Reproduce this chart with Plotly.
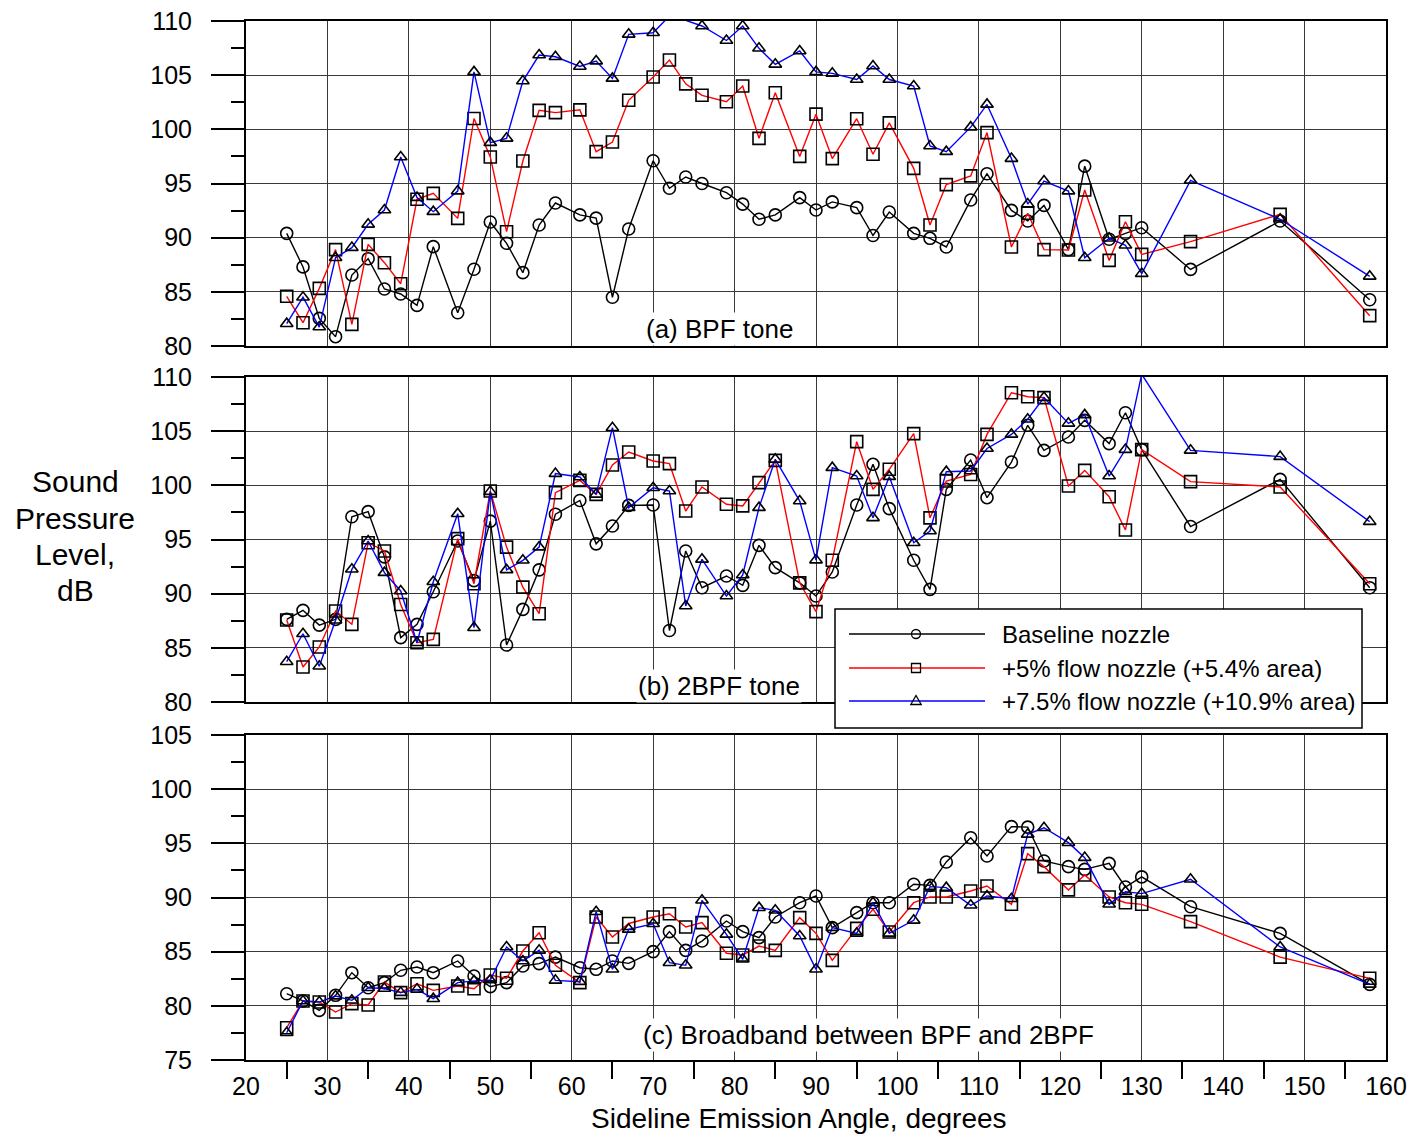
import plotly.graph_objects as go

# ---------------- data ----------------
angle = [25, 27, 29, 31, 33, 35, 37, 39, 41, 43, 46, 48, 50, 52, 54, 56, 58, 61, 63, 65,
         67, 70, 72, 74, 76, 79, 81, 83, 85, 88, 90, 92, 95, 97, 99, 102, 104, 106, 109, 111,
         114, 116, 118, 121, 123, 126, 128, 130, 136, 147, 158]

series_names = ["Baseline nozzle", "+5% flow nozzle (+5.4% area)", "+7.5% flow nozzle (+10.9% area)"]

# (a) BPF tone
bpf_base = [90.4, 87.3, 82.55, 80.86, 86.55, 88.06, 85.26, 84.8, 83.75, 89.17,
            83.07, 87.08, 91.45, 89.48, 86.77, 91.17, 93.2, 92.1, 91.8, 84.5,
            90.8, 97.1, 94.56, 95.6, 95.0, 94.15, 93.1, 91.7, 92.1, 93.7,
            92.55, 93.3, 92.77, 90.2, 92.37, 90.4, 89.94, 89.14, 93.48, 95.9,
            92.52, 91.54, 92.98, 88.9, 96.6, 89.85, 90.4, 90.92, 87.07, 91.54, 84.27]
bpf_p5 = [84.59, 82.15, 85.32, 88.9, 82.0, 89.38, 87.69, 85.75, 93.54, 94.09,
          91.78, 101.0, 97.45, 90.55, 97.08, 101.75, 101.54, 101.8, 97.94, 98.83,
          102.68, 104.83, 106.4, 104.2, 103.14, 102.55, 104.0, 99.17, 103.37, 97.5,
          101.4, 97.3, 100.98, 97.7, 100.6, 96.4, 91.17, 94.9, 95.7, 99.7,
          89.14, 92.25, 88.9, 88.86, 94.4, 87.9, 91.47, 88.46, 89.63, 92.15, 82.8]
bpf_p75 = [82.06, 84.5, 81.75, 88.15, 89.08, 91.23, 92.55, 97.45, 93.7, 92.4,
           94.3, 105.3, 98.77, 99.17, 104.46, 106.86, 106.7, 105.8, 106.3, 104.7,
           108.77, 108.92, 110.46, 110.06, 109.54, 108.2, 109.54, 107.48, 106.0, 107.23,
           105.3, 105.17, 104.6, 105.85, 104.6, 104.0, 98.46, 97.94, 100.2, 102.3,
           97.3, 93.1, 95.23, 94.3, 88.15, 89.94, 89.3, 86.68, 95.29, 91.7, 86.43]

# (b) 2BPF tone
bpf2_base = [87.63, 88.46, 87.1, 87.63, 97.1, 97.57, 93.4, 85.94, 87.17, 90.18,
             94.86, 91.2, 96.7, 85.26, 88.55, 92.2, 97.33, 98.6, 94.6, 96.25,
             98.15, 98.18, 86.6, 93.94, 90.55, 91.63, 90.77, 94.46, 92.4, 91.0,
             89.78, 92.0, 98.18, 101.94, 97.85, 93.08, 90.4, 99.63, 102.34, 98.86,
             102.15, 105.54, 103.23, 104.46, 106.0, 103.85, 106.7, 103.3, 96.2, 100.55, 90.55]
bpf2_p5 = [87.57, 83.23, 85.08, 88.4, 87.17, 94.7, 93.94, 89.0, 85.47, 85.78,
           95.08, 90.92, 99.48, 94.3, 90.6, 88.15, 99.32, 100.46, 99.17, 101.88,
           103.08, 102.25, 102.0, 97.63, 99.85, 98.25, 98.1, 100.25, 102.3, 91.0,
           88.34, 93.08, 104.03, 99.63, 101.48, 104.77, 97.0, 100.4, 101.0, 104.7,
           108.55, 108.18, 108.1, 99.94, 101.38, 98.95, 95.88, 103.3, 100.34, 99.85, 90.92]
bpf2_p75 = [83.72, 86.3, 83.3, 87.54, 92.25, 94.86, 91.94, 90.25, 85.47, 91.1,
            97.38, 86.86, 99.42, 92.2, 93.08, 94.3, 101.08, 100.77, 99.17, 105.32,
            97.94, 99.78, 99.48, 88.86, 93.17, 89.78, 91.72, 97.94, 102.4, 98.55,
            93.1, 101.63, 100.86, 97.0, 100.8, 94.7, 95.78, 101.26, 101.32, 103.4,
            104.7, 106.1, 108.1, 105.72, 106.5, 100.86, 103.3, 110.25, 103.23, 102.65, 96.65]

# (c) Broadband between BPF and 2BPF
bb_base = [81.12, 80.45, 79.58, 80.97, 83.06, 81.67, 82.14, 83.28, 83.58, 83.06,
           84.14, 82.75, 81.77, 82.14, 83.68, 83.9, 84.5, 83.52, 83.37, 84.14,
           83.92, 85.0, 86.85, 85.12, 85.98, 87.83, 86.85, 86.3, 88.2, 89.52,
           90.14, 87.22, 88.6, 89.52, 89.52, 91.22, 91.12, 93.28, 95.52, 93.83,
           96.54, 96.5, 93.37, 92.85, 92.6, 93.15, 90.97, 91.9, 89.15, 86.69, 81.98]
bb_p5 = [77.98, 80.45, 80.35, 79.43, 80.2, 80.08, 82.2, 81.22, 82.04, 81.43,
         81.83, 81.58, 82.85, 82.54, 85.06, 86.75, 83.74, 82.14, 88.2, 86.35,
         87.6, 88.2, 88.5, 87.28, 87.68, 84.85, 84.69, 85.52, 85.12, 88.14,
         86.69, 84.2, 87.15, 88.91, 86.82, 89.52, 90.05, 90.05, 90.6, 91.06,
         89.37, 94.05, 92.85, 90.7, 92.08, 90.05, 89.52, 89.37, 87.77, 84.5, 82.54]
bb_p75 = [77.52, 80.45, 80.35, 80.9, 80.51, 81.67, 81.6, 81.22, 81.52, 80.66,
          82.14, 82.3, 82.38, 85.43, 84.14, 85.12, 82.35, 82.23, 88.69, 83.37,
          87.06, 87.58, 83.98, 83.74, 89.74, 86.6, 84.3, 89.06, 88.82, 86.45,
          83.37, 87.22, 86.69, 89.52, 86.69, 87.89, 91.0, 90.91, 89.28, 90.14,
          89.89, 95.83, 96.44, 95.06, 93.68, 89.37, 90.54, 90.36, 91.68, 85.43, 81.98]

x_ticks = [20, 30, 40, 50, 60, 70, 80, 90, 100, 110, 120, 130, 140, 150, 160]
x_minor_ticks = [25, 35, 45, 55, 65, 75, 85, 95, 105, 115, 125, 135, 145, 155]
panel_labels = ["(a) BPF tone", "(b) 2BPF tone", "(c) Broadband between BPF and 2BPF"]
y_title_lines = ["Sound", "Pressure", "Level,", "dB"]
x_title = "Sideline Emission Angle, degrees"

# ---------------- layout geometry ----------------
# Positions below are given in screen pixels of the 1426x1142 window;
# the page body has a small default margin, so the figure is offset by OFF.
OFF = 7
PX0, PX1, PY0, PY1 = 245, 1385, 20, 1059      # plot area in screen pixels
W, H = 1426 - 2 * OFF - 2, 1142 - 2 * OFF - 2
L, T = PX0 - OFF, PY0 - OFF
PW, PH = PX1 - PX0, PY1 - PY0
R, B = W - L - PW, H - T - PH


def xf(px):
    return (px - PX0) / PW


def yf(py):
    return (PY1 - py) / PH


FONT = "Liberation Sans, Arial, sans-serif"
colors = ["#000000", "#ff0000", "#0000ff"]
symbols = ["circle-open", "square-open", "triangle-up-open"]
msizes = [12, 12, 11]
GRID = "#3a3a3a"

panels = [
    dict(ax="3", top=20, bot=345, yr=[80, 110], data=[bpf_base, bpf_p5, bpf_p75],
         label=panel_labels[0], lx=78.1, ly=81.6),
    dict(ax="2", top=376, bot=701, yr=[80, 110], data=[bpf2_base, bpf2_p5, bpf2_p75],
         label=panel_labels[1], lx=78.1, ly=81.5),
    dict(ax="", top=734, bot=1059, yr=[75, 105], data=[bb_base, bb_p5, bb_p75],
         label=panel_labels[2], lx=96.4, ly=77.3),
]

fig = go.Figure()
layout = dict(
    width=W, height=H,
    margin=dict(l=L, r=R, t=T, b=B, autoexpand=False),
    paper_bgcolor="white", plot_bgcolor="white",
    showlegend=False,
    font=dict(family=FONT, color="black"),
)
annotations = []
shapes = []

for p in panels:
    xa = "x" + p["ax"]
    ya = "y" + p["ax"]
    for i in range(3):
        fig.add_trace(go.Scatter(
            x=angle, y=p["data"][i], name=series_names[i],
            mode="lines+markers", xaxis=xa, yaxis=ya, cliponaxis=False,
            line=dict(color=colors[i], width=1.4),
            marker=dict(symbol=symbols[i], size=msizes[i], color="black",
                        line=dict(color="black", width=1.6)),
        ))
    bottom = p["ax"] == ""
    xkey = "xaxis" + p["ax"]
    ykey = "yaxis" + p["ax"]
    xcfg = dict(
        domain=[0, 1], anchor=ya, range=[20, 160],
        tickmode="array", tickvals=x_ticks,
        showgrid=True, gridcolor=GRID, gridwidth=1.3,
        showline=True, linecolor="black", linewidth=2, mirror=True,
        zeroline=False, fixedrange=True,
    )
    if bottom:
        xcfg.update(
            ticks="outside", ticklen=3, tickcolor="rgba(0,0,0,0)", tickwidth=1,
            showticklabels=True, tickfont=dict(size=25, family=FONT),
            ticklabeloverflow="allow",
            minor=dict(tickmode="array", tickvals=x_minor_ticks, ticks="outside",
                       ticklen=17, tickwidth=1.5, tickcolor="black", showgrid=False),
        )
    else:
        xcfg.update(matches="x", ticks="", showticklabels=False)
    ycfg = dict(
        domain=[yf(p["bot"]), yf(p["top"])], anchor=xa, range=p["yr"],
        tickmode="linear", tick0=p["yr"][0], dtick=5,
        ticks="outside", ticklen=33, tickwidth=1.5, tickcolor="black",
        minor=dict(tickmode="linear", tick0=p["yr"][0] + 2.5, dtick=5, ticks="outside",
                   ticklen=13, tickwidth=1.5, tickcolor="black", showgrid=False),
        showgrid=True, gridcolor=GRID, gridwidth=1.3,
        showline=True, linecolor="black", linewidth=2, mirror=True,
        zeroline=False, fixedrange=True,
        tickfont=dict(size=25, family=FONT), ticklabelstandoff=14,
        ticklabeloverflow="allow",
    )
    layout[xkey] = xcfg
    layout[ykey] = ycfg
    annotations.append(dict(
        x=p["lx"], y=p["ly"], xref=xa, yref=ya, text=p["label"], showarrow=False,
        font=dict(size=26, family=FONT, color="black"), bgcolor="white",
        xanchor="center", yanchor="middle", borderpad=1,
    ))

# x-axis title
annotations.append(dict(
    x=xf(798), y=yf(1117), xref="paper", yref="paper", text=x_title, showarrow=False,
    font=dict(size=28, family=FONT, color="black"), xanchor="center", yanchor="middle",
))

# y-axis title (stacked lines)
for txt, py in zip(y_title_lines, [480, 517, 553, 589]):
    annotations.append(dict(
        x=xf(74), y=yf(py), xref="paper", yref="paper", text=txt, showarrow=False,
        font=dict(size=30, family=FONT, color="black"),
        xanchor="center", yanchor="middle",
    ))

# legend (drawn box, sample lines, glyphs and text)
bx0, by0, bx1, by1 = 834, 608, 1361, 727
shapes.append(dict(type="rect", xref="paper", yref="paper",
                   x0=xf(bx0), x1=xf(bx1), y0=yf(by1), y1=yf(by0),
                   line=dict(color="black", width=1.5), fillcolor="white", layer="above"))
rows = [633, 667, 700]
lx0, lx1, mx, tx = 848, 984, 915, 999
for i, ry in enumerate(rows):
    shapes.append(dict(type="line", xref="paper", yref="paper",
                       x0=xf(lx0), x1=xf(lx1), y0=yf(ry), y1=yf(ry),
                       line=dict(color=colors[i], width=1.5), layer="above"))
    r = 4.5
    if i == 0:
        shapes.append(dict(type="circle", xref="paper", yref="paper",
                           x0=xf(mx - r), x1=xf(mx + r), y0=yf(ry + r), y1=yf(ry - r),
                           line=dict(color="black", width=1.3), layer="above"))
    elif i == 1:
        shapes.append(dict(type="rect", xref="paper", yref="paper",
                           x0=xf(mx - r), x1=xf(mx + r), y0=yf(ry + r), y1=yf(ry - r),
                           line=dict(color="black", width=1.3), layer="above"))
    else:
        path = "M {:.5f} {:.5f} L {:.5f} {:.5f} L {:.5f} {:.5f} Z".format(
            xf(mx - 5.2), yf(ry + 3.5), xf(mx + 5.2), yf(ry + 3.5), xf(mx), yf(ry - 5.5))
        shapes.append(dict(type="path", xref="paper", yref="paper", path=path,
                           line=dict(color="black", width=1.3), layer="above"))
    annotations.append(dict(
        x=xf(tx), y=yf(ry), xref="paper", yref="paper", text=series_names[i],
        showarrow=False, font=dict(size=24, family=FONT, color="black"),
        xanchor="left", yanchor="middle",
    ))

layout["annotations"] = annotations
layout["shapes"] = shapes
fig.update_layout(**layout)
fig.write_html("out.html")
